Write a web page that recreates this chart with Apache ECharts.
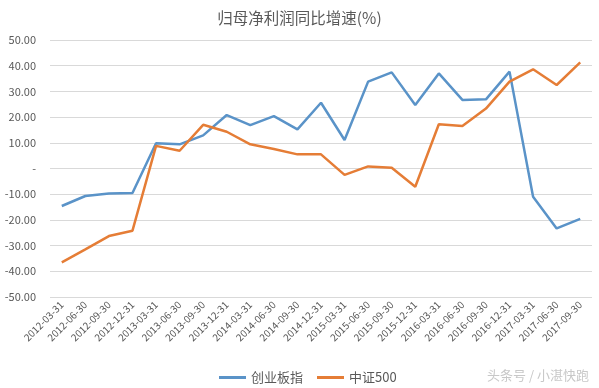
<!DOCTYPE html>
<html><head><meta charset="utf-8">
<script src="https://cdn.jsdelivr.net/npm/echarts@6/dist/echarts.min.js"></script>
<style>html,body{margin:0;padding:0;background:#fff}#c{width:599px;height:388px}</style>
</head><body><div id="c"></div>
<script>
const categories = ['2012-03-31','2012-06-30','2012-09-30','2012-12-31','2013-03-31','2013-06-30','2013-09-30','2013-12-31','2014-03-31','2014-06-30','2014-09-30','2014-12-31','2015-03-31','2015-06-30','2015-09-30','2015-12-31','2016-03-31','2016-06-30','2016-09-30','2016-12-31','2017-03-31','2017-06-30','2017-09-30'];
const chinext = [-14.6,-10.7,-9.7,-9.5,9.8,9.4,12.9,20.8,16.9,20.4,15.2,25.6,11.1,33.8,37.4,24.7,37.0,26.7,26.9,37.7,-11.0,-23.3,-19.6];
const csi500 = [-36.5,-31.5,-26.3,-24.2,8.8,6.9,17.0,14.3,9.4,7.6,5.5,5.5,-2.5,0.8,0.3,-7.1,17.2,16.5,23.3,33.8,38.6,32.5,41.3];
const seriesNames = ['创业板指','中证500'];
const titleText = '归母净利润同比增速(%)';
const watermark = '头条号 / 小湛快跑';

const chart = echarts.init(document.getElementById('c'));
const font = '"Noto Sans CJK SC", "Noto Sans", sans-serif';
chart.setOption({
  animation: false,
  title: { text: titleText, left: 'center', top: 5, textStyle: { fontFamily: font, fontSize: 15.5, fontWeight: 'normal', color: '#595959' } },
  grid: { left: 50, right: 7, top: 40, bottom: 91 },
  legend: { top: 366, left: 214, icon: 'rect', itemWidth: 27, itemHeight: 3, itemGap: 14,
    textStyle: { fontFamily: font, fontSize: 13, color: '#595959' }, data: seriesNames },
  graphic: [{ type: 'text', right: 10, bottom: 6, style: { text: watermark, fontFamily: font, fontSize: 13, fill: '#c8c8c8' } }],
  xAxis: { type: 'category', data: categories, boundaryGap: true,
    axisLine: { show: false }, axisTick: { show: false },
    axisLabel: { rotate: 45, interval: 0, fontFamily: font, fontSize: 10, color: '#595959', margin: 6 } },
  yAxis: { type: 'value', min: -50, max: 50, interval: 10,
    axisLine: { show: false }, axisTick: { show: false },
    splitLine: { lineStyle: { color: '#d9d9d9', width: 1 } },
    axisLabel: { fontFamily: font, fontSize: 11, color: '#595959', margin: 14,
      formatter: v => v === 0 ? '-' : v.toFixed(2) } },
  series: [
    { name: seriesNames[0], type: 'line', data: chinext, showSymbol: false, symbol: 'none', lineStyle: { color: '#5A93C8', width: 2.5 }, itemStyle: { color: '#5A93C8' } },
    { name: seriesNames[1], type: 'line', data: csi500, showSymbol: false, symbol: 'none', lineStyle: { color: '#E57D36', width: 2.5 }, itemStyle: { color: '#E57D36' } }
  ]
});
</script></body></html>
